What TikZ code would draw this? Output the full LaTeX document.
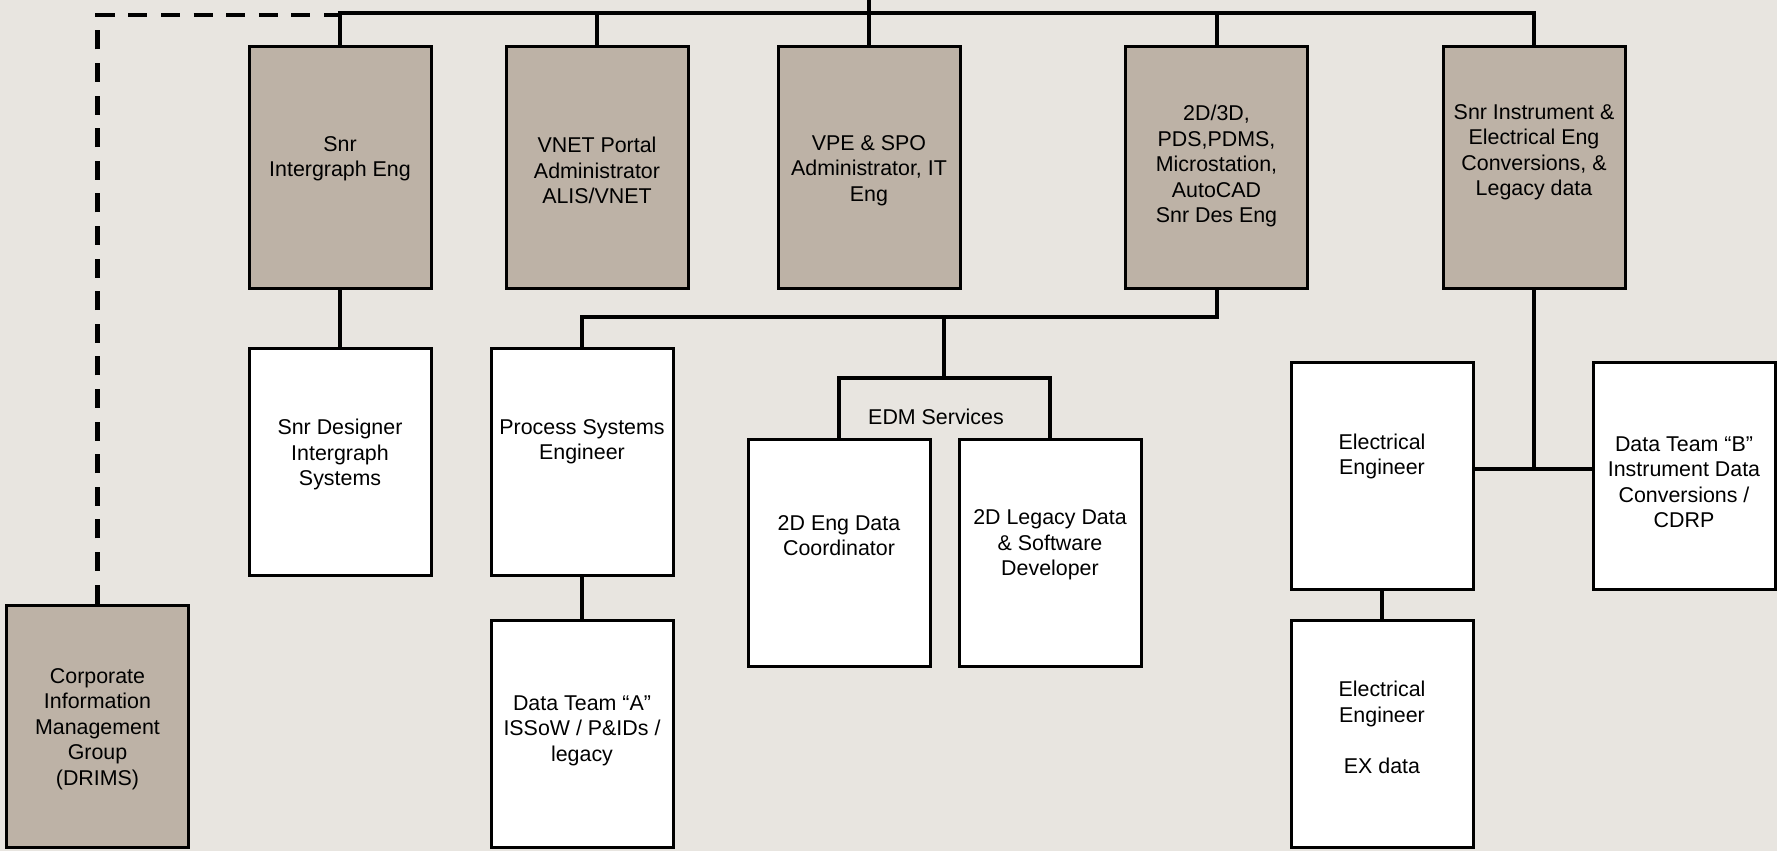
\documentclass[tikz,border=0pt]{standalone}
\usepackage{fontspec}
\setmainfont{Liberation Sans}
\usetikzlibrary{calc}
\definecolor{pagebg}{RGB}{232,229,224}
\definecolor{mgrfill}{RGB}{189,178,166}
\newcommand\lbfont{\fontsize{10.7}{12.75}\selectfont}
\tikzset{
  orgbox/.style={rectangle, draw=black, line width=1.5pt, minimum width=91pt, inner sep=0pt},
  mgr/.style={orgbox, fill=mgrfill, minimum height=121pt},
  staff/.style={orgbox, fill=white, minimum height=113.5pt},
  lbl/.style={align=center, font=\lbfont, inner sep=0pt},
  conn/.style={line width=2pt},
  dotlink/.style={line width=2.4pt, dash pattern=on 9.5pt off 6.8pt}
}
\begin{document}
\begin{tikzpicture}[x=0.5pt,y=-0.5pt]
  % page
  \fill[pagebg] (0,0) rectangle (1777,851);
  \useasboundingbox (0,0) rectangle (1777,851);

  % reporting bus
  \coordinate (top) at (869,0);
  \coordinate (bus) at (869,13);
  \coordinate (dl) at (340,15);
  \coordinate (j1) at (944,317);
  \coordinate (edm) at (944,378);
  \coordinate (j2) at (1534,469);

  % managers
  \node[mgr] (b1) at (340,167) {};
  \node[mgr] (b2) at (597,167) {};
  \node[mgr] (b3) at (869,167) {};
  \node[mgr] (b4) at (1216.5,167) {};
  \node[mgr] (b5) at (1534,167) {};
  \node[mgr] (drims) at (97.5,726) {};

  % staff
  \node[staff] (des) at (340,461.5) {};
  \node[staff] (pse) at (582,461.5) {};
  \node[staff] (dta) at (582,733.5) {};
  \node[staff] (eng) at (839,552.5) {};
  \node[staff] (leg) at (1050,552.5) {};
  \node[staff] (ee1) at (1382,476) {};
  \node[staff] (dtb) at (1684,476) {};
  \node[staff] (ee2) at (1382,733.5) {};

  % dotted reporting line
  \draw[dotlink] (drims.north) |- (dl);

  % solid reporting lines
  \draw[conn] (b1.north) |- (bus) -| (b5.north);
  \draw[conn] (top) -- (b3.north);
  \draw[conn] (b2.north) -- (b2.north |- bus);
  \draw[conn] (b4.north) -- (b4.north |- bus);
  \draw[conn] (b1.south) -- (des.north);
  \draw[conn] (b4.south) |- (j1) -| (pse.north);
  \draw[conn] (j1) -- (edm);
  \draw[conn] (eng.north) |- (edm) -| (leg.north);
  \draw[conn] (pse.south) -- (dta.north);
  \draw[conn] (b5.south) -- (j2);
  \draw[conn] (ee1.east |- j2) -- (dtb.west |- j2);
  \draw[conn] (ee1.south) -- (ee2.north);

  % labels
  \node[lbl] (t1) at (340,158.5) {Snr\\Intergraph Eng};
  \node[lbl] (t2) at (597,170.5) {VNET Portal\\Administrator\\ALIS/VNET};
  \node[lbl] (t3) at (869,170.5) {VPE \& SPO\\Administrator, IT\\Eng};
  \node[lbl] (t4) at (1216.5,166) {2D/3D,\\PDS,PDMS,\\Microstation,\\AutoCAD\\Snr Des Eng};
  \node[lbl] (t5) at (1534,152) {Snr Instrument \&\\Electrical Eng\\Conversions, \&\\Legacy data};
  \node[lbl] (t6) at (97.5,729) {Corporate\\Information\\Management\\Group\\(DRIMS)};
  \node[lbl] (t7) at (340,454.5) {Snr Designer\\Intergraph\\Systems};
  \node[lbl] (t8) at (582,441.7) {Process Systems\\Engineer};
  \node[lbl] (t9) at (582,730.5) {Data Team “A”\\ISSoW / P\&IDs /\\legacy};
  \node[lbl] (t10) at (936,417) {EDM Services};
  \node[lbl] (t11) at (839,535.5) {2D Eng Data\\Coordinator};
  \node[lbl] (t12) at (1050,545) {2D Legacy Data\\\& Software\\Developer};
  \node[lbl] (t13) at (1382,456.5) {Electrical\\Engineer};
  \node[lbl] (t14) at (1684,482) {Data Team “B”\\Instrument Data\\Conversions /\\CDRP};
  \node[lbl] (t15) at (1382,727.5) {Electrical\\Engineer\\[12.75pt]EX data};
\end{tikzpicture}
\end{document}
